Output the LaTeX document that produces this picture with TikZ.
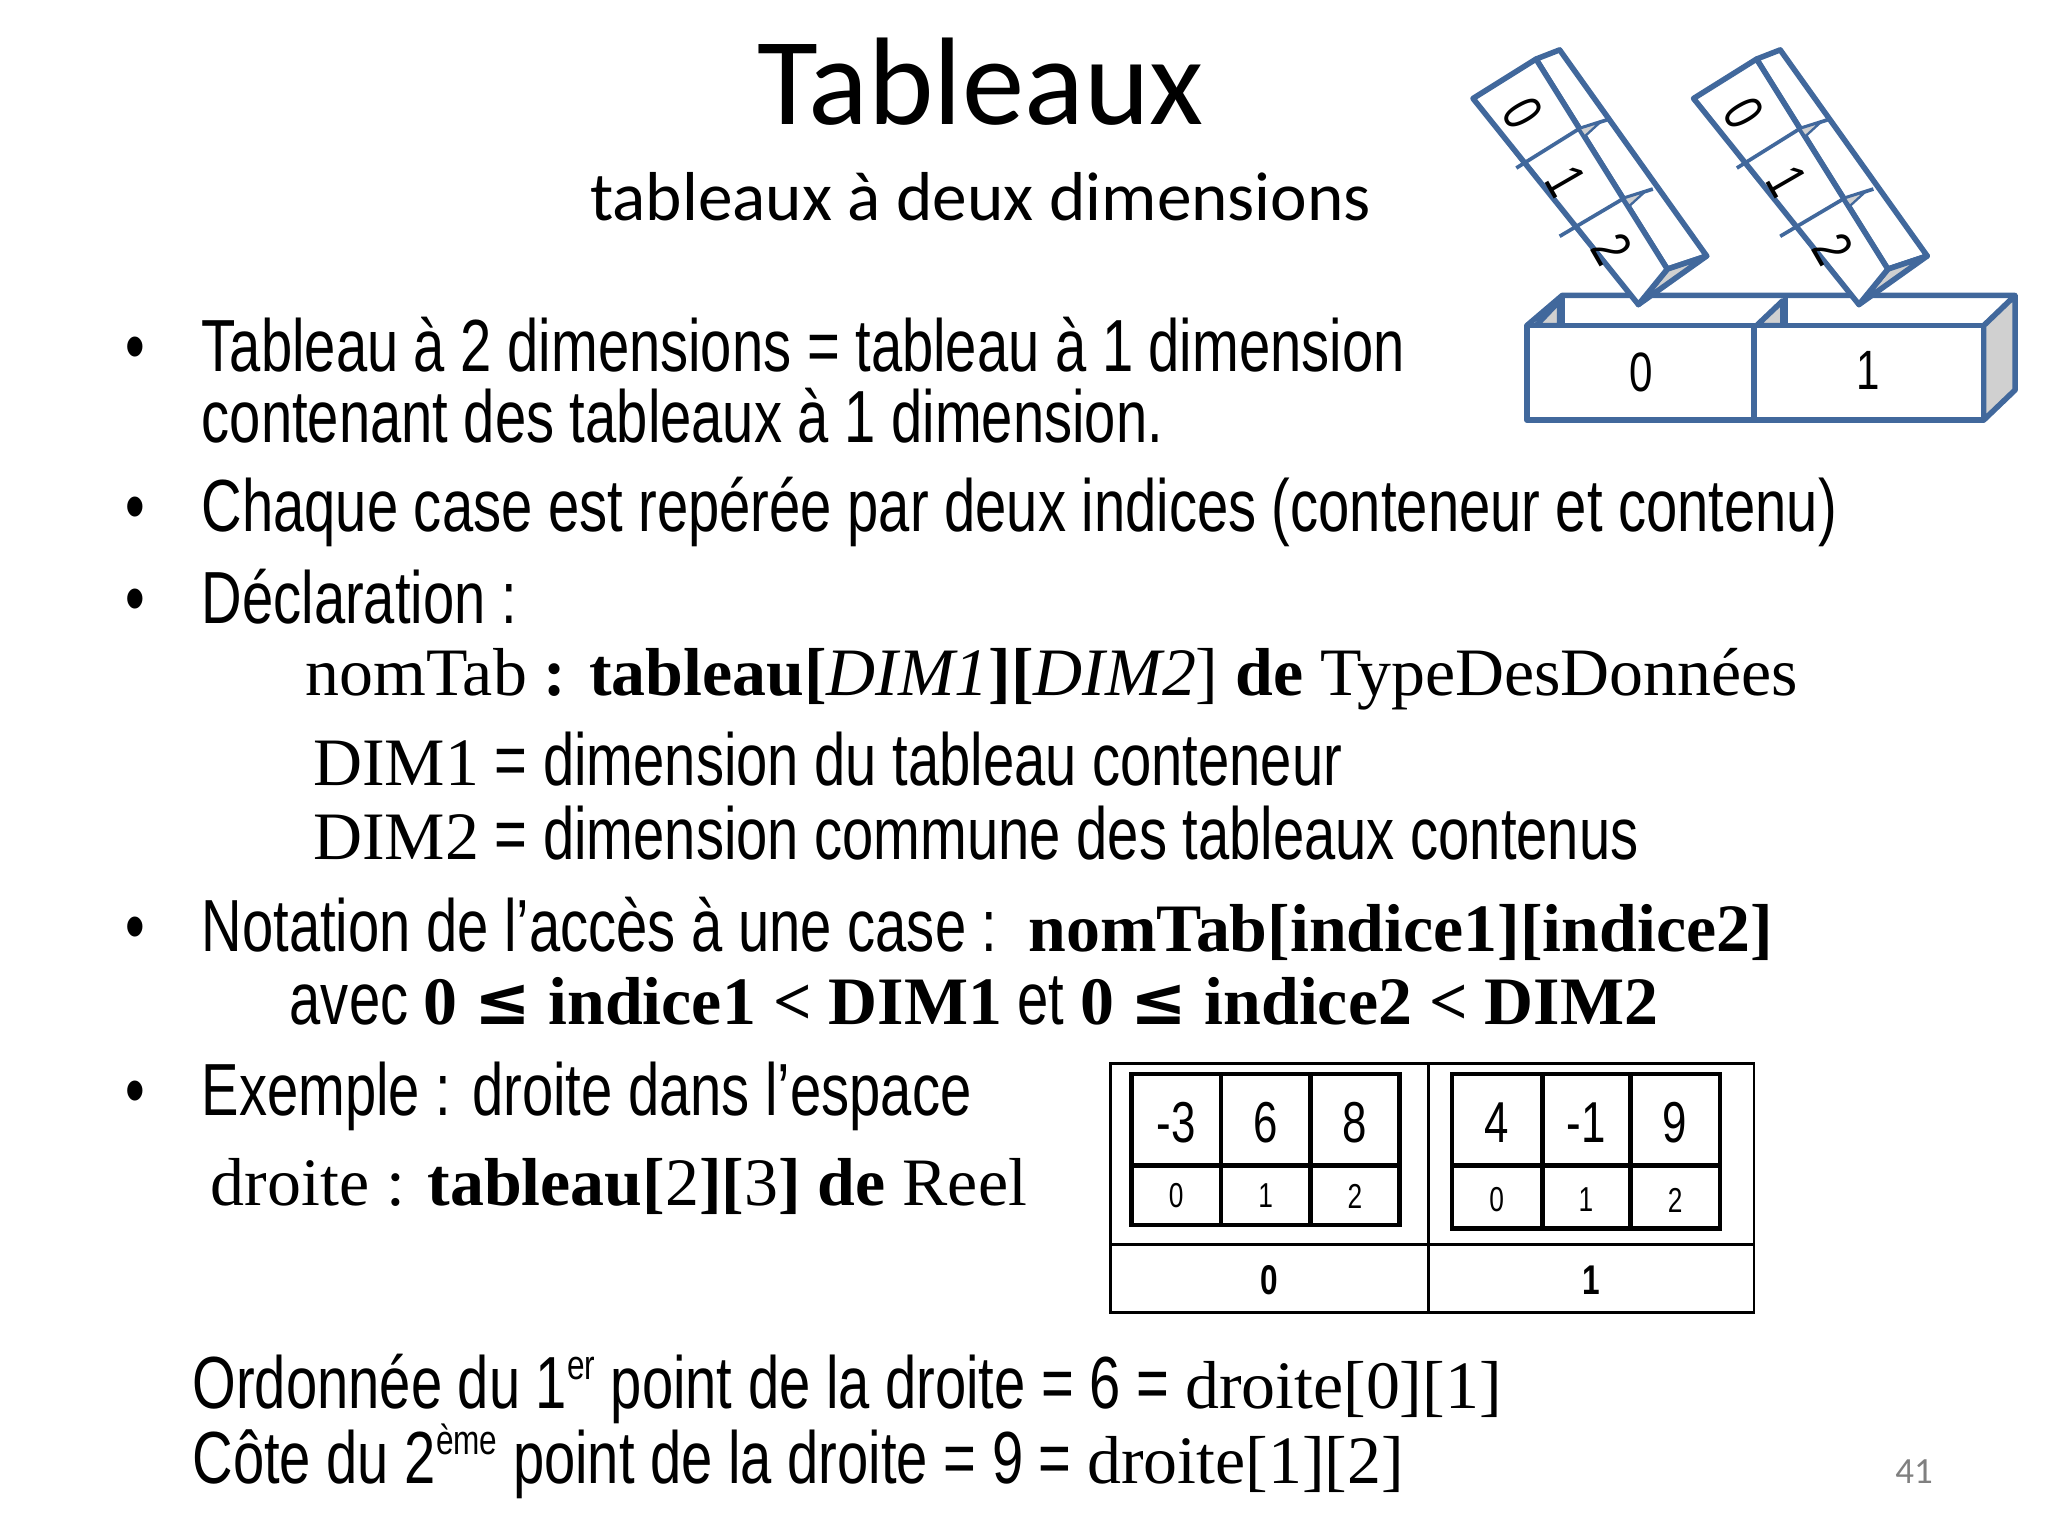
\documentclass[tikz,border=0pt]{standalone}
\usepackage{fontspec}
\setmainfont{Liberation Serif}
\newfontfamily\nar[FakeStretch=0.76]{Liberation Sans}
\newfontfamily\calfont{Carlito}
\newfontfamily\symfont{DejaVu Serif}
\definecolor{blu}{HTML}{41689C}
\definecolor{gr}{HTML}{D0D0D0}
\newcommand\supx[1]{\raisebox{0.75ex}{\fontsize{9}{10}\selectfont #1}}
\begin{document}
\begin{tikzpicture}[x=0.01cm,y=-0.01cm,
  tx/.style={anchor=base west,inner sep=0,font=\nar\fontsize{16}{18}\selectfont},
  sr/.style={anchor=base west,inner sep=0,font=\fontsize{14.7}{17}\selectfont},
  bul/.style={anchor=base,inner sep=0,font=\nar\fontsize{16}{18}\selectfont},
  bl/.style={draw=blu,line width=1.2pt,line join=round},
  tb/.style={draw=black,line width=0.6pt},
  cell/.style={inner sep=0,font=\nar\fontsize{12.5}{14}\selectfont},
  small/.style={inner sep=0,font=\nar\fontsize{7.5}{8}\selectfont}]
\useasboundingbox (0,0) rectangle (1560,1170);
\node[inner sep=0,font=\calfont\fontsize{27}{30}\selectfont,anchor=base] (title) at (747,95) {Tableaux};
\node[inner sep=0,font=\calfont\fontsize{15}{17}\selectfont,anchor=base] (sub) at (747,168) {tableaux à deux dimensions};
% bullets
\foreach \y/\n in {283/b1,405/b2,475/b3,725/b4,850/b5}{\node[bul] (\n) at (103,\y) {•};}
\node[tx] (l1) at (153,283) {Tableau à 2 dimensions = tableau à 1 dimension};
\node[tx] (l2) at (153,337) {contenant des tableaux à 1 dimension.};
\node[tx] (l3) at (153,405) {Chaque case est repérée par deux indices (conteneur et contenu)};
\node[tx] (l4) at (153,475) {Déclaration :};
\node[sr] (l5) at (232,530) {nomTab \textbf{: tableau[}\textit{DIM1}\textbf{][}\textit{DIM2}] \textbf{de} TypeDesDonnées};
\node[tx] (l6) at (238,598) {{\rmfamily\fontsize{14.7}{17}\selectfont DIM1} = dimension du tableau conteneur};
\node[tx] (l7) at (238,655) {{\rmfamily\fontsize{14.7}{17}\selectfont DIM2} = dimension commune des tableaux contenus};
\node[tx] (l8) at (153,725) {Notation de l’accès à une case :\ \ {\rmfamily\bfseries\fontsize{14.7}{17}\selectfont nomTab[indice1][indice2]}};
\node[tx] (l9) at (220,780) {avec {\rmfamily\bfseries\fontsize{14.7}{17}\selectfont 0 {\symfont ≤} indice1 < DIM1} et {\rmfamily\bfseries\fontsize{14.7}{17}\selectfont 0 {\symfont ≤} indice2 < DIM2}};
\node[tx] (l10) at (153,850) {Exemple : droite dans l’espace};
\node[sr] (l11) at (160,918) {droite : \textbf{tableau[}2\textbf{][}3\textbf{] de} Reel};
\node[tx] (l12) at (146,1073) {Ordonnée du 1\supx{er} point de la droite = 6 = {\rmfamily\fontsize{14.7}{17}\selectfont droite[0][1]}};
\node[tx] (l13) at (146,1130) {Côte du 2\supx{ème} point de la droite = 9 = {\rmfamily\fontsize{14.7}{17}\selectfont droite[1][2]}};
\node[inner sep=0,anchor=base,text=gray,font=\calfont\fontsize{8}{9}\selectfont] (pg) at (1458,1130) {41};
% table
\draw[tb] (846,810) rectangle (1336,1000);
\draw[tb] (1088,810) -- (1088,1000);
\draw[tb] (846,948) -- (1336,948);
\node[cell,font=\nar\bfseries\fontsize{9}{10}\selectfont] (c0) at (967,975) {0};
\node[cell,font=\nar\bfseries\fontsize{9}{10}\selectfont] (c1) at (1212,975) {1};
\draw[tb,line width=1pt] (862,818) rectangle (1066,933) (862,888)--(1066,888) (930,818)--(930,933) (998,818)--(998,933);
\draw[tb,line width=1pt] (1106,818) rectangle (1310,936) (1106,888)--(1310,888) (1175,818)--(1175,936) (1242,818)--(1242,936);
\foreach \x/\v/\i/\n in {896/-3/0/a,964/6/1/b,1032/8/2/c}{
  \node[cell] (v\n) at (\x,855) {\v}; \node[small] (i\n) at (\x,911) {\i};}
\foreach \x/\v/\i/\n in {1140/4/0/d,1208/-1/1/e,1276/9/2/f}{
  \node[cell] (v\n) at (\x,855) {\v}; \node[small] (i\n) at (\x,914) {\i};}
% 3D base box
\draw[bl,fill=gr] (1511,248)--(1535,225)--(1535,297)--(1511,320)--cycle;
\draw[bl] (1163,248)--(1190,225)--(1535,225);
\draw[bl,fill=gr] (1170,248)--(1188,229)--(1188,248)--cycle;
\draw[bl,fill=gr] (1338,248)--(1358,229)--(1358,248)--cycle;
\draw[bl] (1190,225)--(1190,248) (1360,225)--(1360,248);
\draw[bl,fill=white] (1163,248) rectangle (1511,320);
\draw[bl] (1336,248)--(1336,320);
\node[cell,font=\nar\fontsize{12}{13}\selectfont] (k0) at (1250,284) {0};
\node[cell,font=\nar\fontsize{12}{13}\selectfont] (k1) at (1423,282) {1};
% sticks
\foreach \ox/\s in {0/p,168/q}{
\begin{scope}[xshift=\ox*0.01cm]
\draw[bl,fill=white] (1170,45)--(1188,38)--(1300,195)--(1270,205)--cycle;
\draw[bl,fill=gr] (1248,232)--(1270,205)--(1300,195)--cycle;
\draw[bl,fill=white] (1122,75)--(1170,45)--(1270,205)--(1248,232)--cycle;
\draw[bl,line width=0.8pt] (1155,128)--(1203,98)--(1225,91) (1188,180)--(1237,151)--(1259,144);
\draw[bl,fill=gr,line width=0.5pt] (1203,98)--(1219,93)--(1207,104)--cycle;
\draw[bl,fill=gr,line width=0.5pt] (1237,151)--(1253,146)--(1241,157)--cycle;
\node[cell,rotate=-60,font=\nar\fontsize{12}{13}\selectfont] (\s0) at (1160,86) {0};
\node[cell,rotate=-60,font=\nar\fontsize{12}{13}\selectfont] (\s1) at (1193,138) {1};
\node[cell,rotate=-60,font=\nar\fontsize{12}{13}\selectfont] (\s2) at (1228,190) {2};
\end{scope}}
\end{tikzpicture}
\end{document}
